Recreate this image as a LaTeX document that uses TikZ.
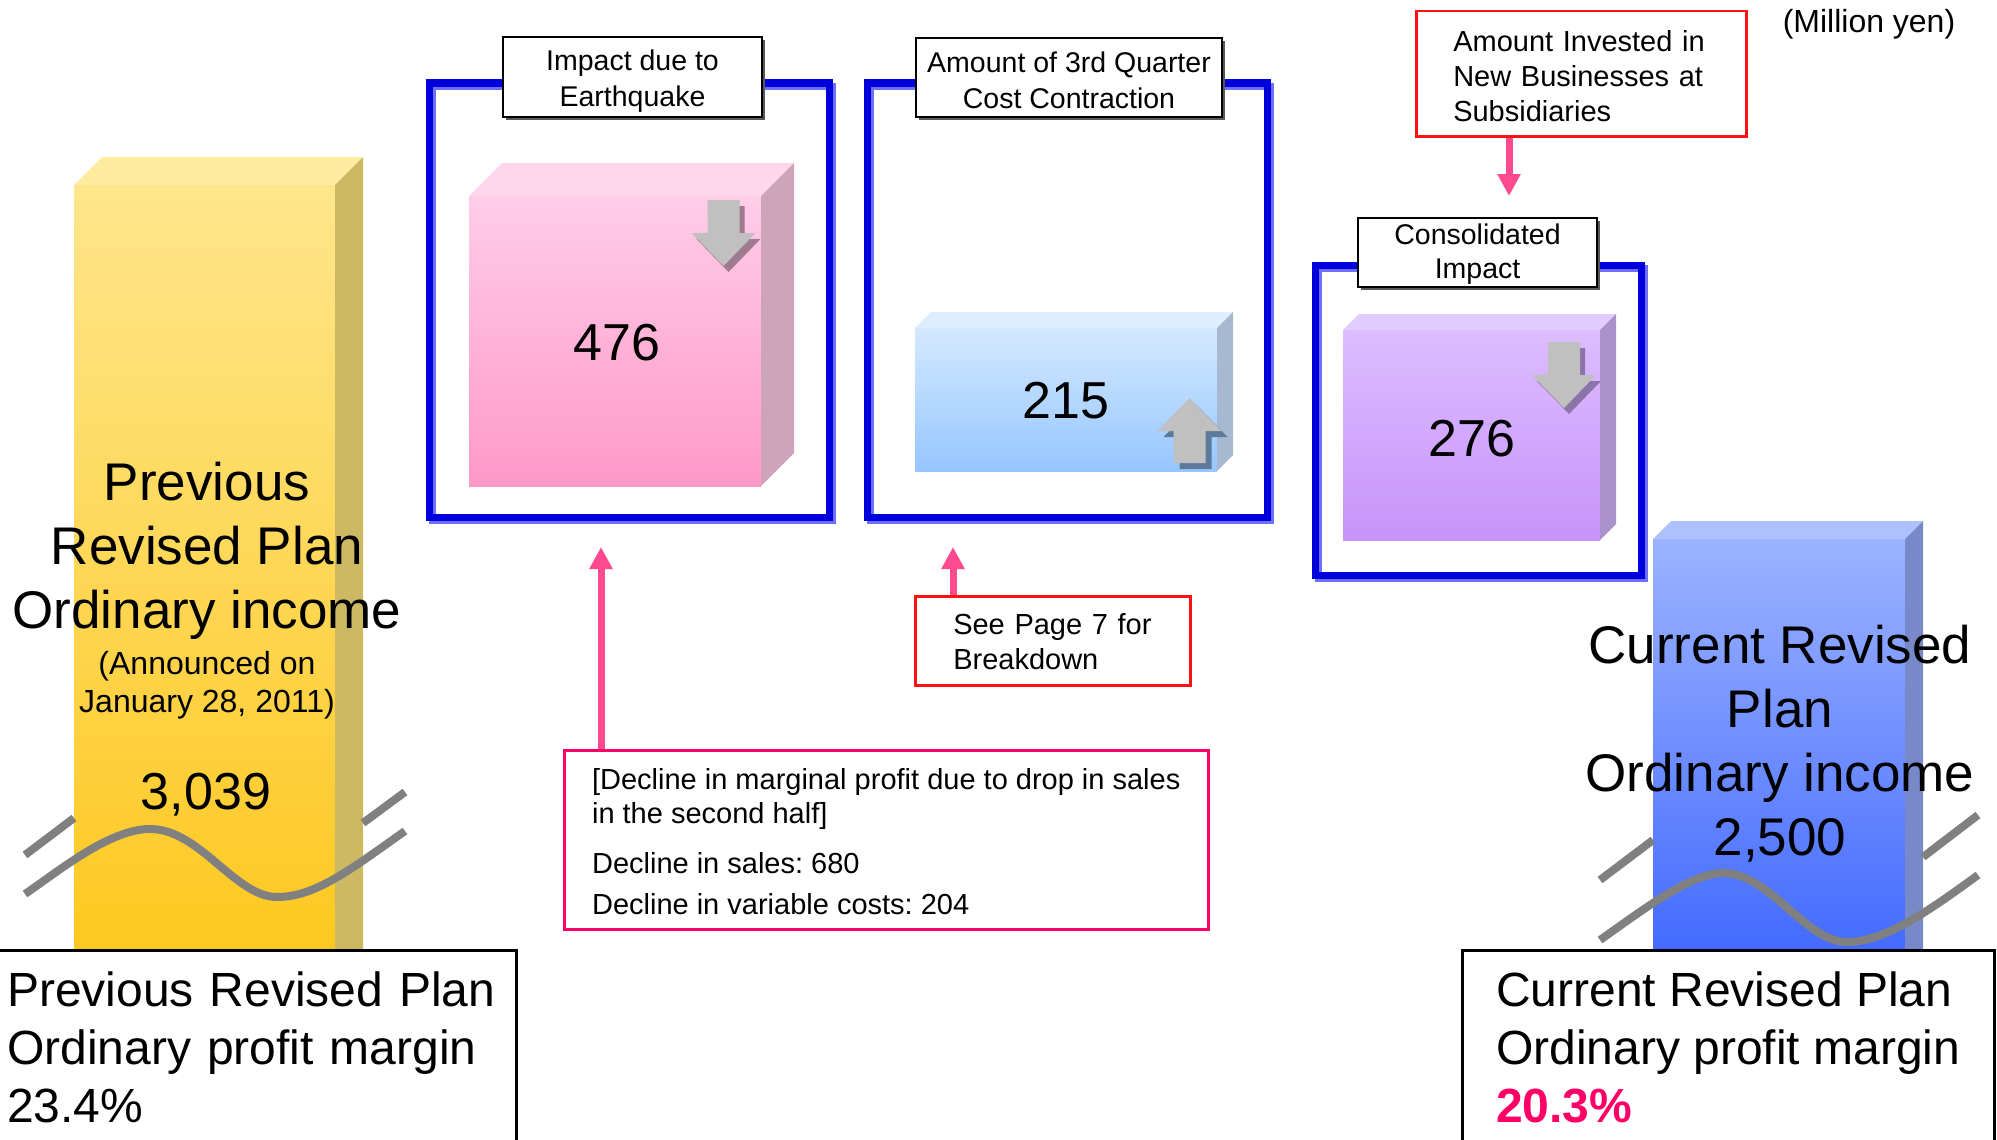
\documentclass[tikz,border=0pt]{standalone}
\usepackage{fontspec}
\setmainfont{Liberation Sans}
\usetikzlibrary{arrows.meta,shadows}
\frenchspacing

% frame, line and callout colours
\definecolor{framedark}{HTML}{0000DC}
\definecolor{framelight}{HTML}{6E6EFF}
\definecolor{breakgray}{HTML}{808080}
\definecolor{calloutred}{HTML}{FF1010}
\definecolor{calloutpink}{HTML}{FF0066}
\definecolor{arrowpink}{HTML}{FF4A90}
\definecolor{arrowgray}{HTML}{C0C0C0}
% block colours: front top, front bottom, lid, side
\definecolor{pinktop}{HTML}{FFCDE8}\definecolor{pinkbot}{HTML}{FF98C8}
\definecolor{pinklid}{HTML}{FFD7EC}\definecolor{pinkside}{HTML}{CDA4BA}
\definecolor{pinkshade}{HTML}{A07A8E}
\definecolor{skytop}{HTML}{D4E9FF}\definecolor{skybot}{HTML}{96C6FF}
\definecolor{skylid}{HTML}{DCEEFF}\definecolor{skyside}{HTML}{A6B9D1}
\definecolor{skyshade}{HTML}{5E7A99}
\definecolor{violettop}{HTML}{DDBCFF}\definecolor{violetbot}{HTML}{C794FA}
\definecolor{violetlid}{HTML}{E1CCFF}\definecolor{violetside}{HTML}{AA92CC}
\definecolor{violetshade}{HTML}{8A74A8}
\definecolor{goldtop}{HTML}{FFE68C}\definecolor{goldbot}{HTML}{FDC71C}
\definecolor{goldlid}{HTML}{FFEC9E}\definecolor{goldside}{HTML}{CDB964}
\definecolor{royaltop}{HTML}{9CB3FF}\definecolor{royalbot}{HTML}{3E66FF}
\definecolor{royallid}{HTML}{ADC1FF}\definecolor{royalside}{HTML}{7889CA}

% a solid block: x1 y1 x2 y2 (front face), depth, front top, front bottom, lid, side
\newcommand{\solidcube}[9]{%
  \shade[top color=#6,bottom color=#7] (#1,#2) rectangle (#3,#4);
  \fill[#8] (#1,#2) -- (#1+#5,#2-#5) -- (#3+#5,#2-#5) -- (#3,#2) -- cycle;
  \fill[#9] (#3,#2) -- (#3+#5,#2-#5) -- (#3+#5,#4-#5) -- (#3,#4) -- cycle;
}
% blue double frame around a block
\newcommand{\blueframe}[4]{%
  \draw[frameshade, shift={(3.5,3.5)}] (#1,#2) rectangle (#3,#4);
  \draw[frameline] (#1,#2) rectangle (#3,#4);
}

\begin{document}
\begin{tikzpicture}[x=1pt,y=-1pt,
  frameline/.style={draw=framedark, line width=7pt},
  frameshade/.style={draw=framelight, line width=7pt},
  breakline/.style={draw=breakgray, line width=8pt},
  labelbox/.style={draw=black, line width=2.5pt, fill=white, align=center,
    inner sep=0pt, font=\fontsize{28.5}{36}\selectfont,
    drop shadow={shadow xshift=3pt, shadow yshift=-3pt, fill=black!65, opacity=1}},
  callout/.style={draw=#1, line width=2.5pt, fill=white, align=left,
    inner ysep=0pt, font=\fontsize{29}{35}\selectfont},
  pinkarrow/.style={draw=arrowpink, line width=7pt,
    -{Triangle[width=22pt,length=22pt]}},
  numtext/.style={inner sep=0pt, font=\fontsize{52}{62}\selectfont},
  bartext/.style={inner sep=0pt, font=\fontsize{53}{64}\selectfont},
  bottombox/.style={draw=black, line width=2.5pt, fill=white, align=left,
    font=\fontsize{48}{58}\selectfont},
  pics/downarr/.style={code={
    \fill[#1, shift={(5,6)}] (-16,0) -- (16,0) -- (16,33) -- (32,33) -- (0,66) -- (-32,33) -- (-16,33) -- cycle;
    \fill[arrowgray] (-16,0) -- (16,0) -- (16,33) -- (32,33) -- (0,66) -- (-32,33) -- (-16,33) -- cycle;
  }},
  pics/uparr/.style={code={
    \fill[#1, shift={(6,6)}] (-16,0) -- (16,0) -- (16,-32) -- (32,-32) -- (0,-65) -- (-32,-32) -- (-16,-32) -- cycle;
    \fill[arrowgray] (-16,0) -- (16,0) -- (16,-32) -- (32,-32) -- (0,-65) -- (-32,-32) -- (-16,-32) -- cycle;
  }}
]
\useasboundingbox (0,0) rectangle (1997,1140);

% ---------- previous plan bar ----------
\solidcube{74}{185}{335}{977}{28}{goldtop}{goldbot}{goldlid}{goldside}
\draw[breakline] (25,855) -- (74,818);
\draw[breakline] (363,823) -- (405,792);
\draw[breakline] (25,894) .. controls (60,870) and (110,829) .. (150,829)
  .. controls (200,829) and (235,897) .. (277,897)
  .. controls (315,897) and (350,870) .. (405,831);
\node[bartext, anchor=base] (prevtitle) at (207,500)
  {\begin{tabular}[t]{@{}c@{}}Previous\\Revised Plan\\Ordinary income\end{tabular}};
\node[inner sep=0pt, anchor=base, font=\fontsize{32}{38.5}\selectfont] (announced) at (207,674)
  {\begin{tabular}[t]{@{}c@{}}(Announced on\\January 28, 2011)\end{tabular}};
\node[numtext, anchor=base] (prevvalue) at (206,809) {3,039};

% ---------- current plan bar ----------
\solidcube{1653}{539}{1905}{977}{18}{royaltop}{royalbot}{royallid}{royalside}
\draw[breakline] (1600,880) -- (1653,840);
\draw[breakline] (1923,857) -- (1978,815);
\draw[breakline] (1600,940) .. controls (1640,912) and (1690,873) .. (1723,873)
  .. controls (1770,873) and (1805,942) .. (1847,942)
  .. controls (1885,942) and (1930,910) .. (1978,875);
\node[bartext, anchor=base] (currtitle) at (1780,663)
  {\begin{tabular}[t]{@{}c@{}}Current Revised\\Plan\\Ordinary income\\2,500\end{tabular}};

% ---------- earthquake impact ----------
\blueframe{429}{83}{829}{517}
\solidcube{469}{196}{761}{486}{33}{pinktop}{pinkbot}{pinklid}{pinkside}
\pic at (723.5,200) {downarr=pinkshade};
\node[numtext, anchor=base] (quakevalue) at (617,360) {476};
\node[labelbox, minimum width=259pt, minimum height=80pt] (quakelabel) at (632.5,77)
  {\rule{0pt}{28pt}Impact due to\\Earthquake};

% ---------- cost contraction ----------
\blueframe{867}{83}{1267}{517}
\solidcube{915}{328}{1217}{471}{16}{skytop}{skybot}{skylid}{skyside}
\pic at (1189.5,463) {uparr=skyshade};
\node[numtext, anchor=base] (costvalue) at (1066,418) {215};
\node[labelbox, minimum width=306pt, minimum height=79pt] (costlabel) at (1069,77.5)
  {\rule{0pt}{27pt}Amount of 3rd Quarter\\Cost Contraction};

% ---------- consolidated impact ----------
\blueframe{1315}{265}{1641}{575}
\solidcube{1343}{330}{1600}{540}{16}{violettop}{violetbot}{violetlid}{violetside}
\pic at (1564,342) {downarr=violetshade};
\node[numtext, anchor=base] (consvalue) at (1472,456) {276};
\node[labelbox, minimum width=239pt, minimum height=69pt, font=\fontsize{28.5}{34}\selectfont]
  (conslabel) at (1477.5,252.5) {\rule{0pt}{23pt}Consolidated\\Impact};

% ---------- unit ----------
\node[inner sep=0pt, anchor=base, font=\fontsize{32}{38}\selectfont] (unit) at (1869,33) {(Million yen)};

% ---------- callouts ----------
\node[callout=calloutred, anchor=north west, minimum height=125pt, text width=256pt,
  inner xsep=37pt] (invest) at (1415,10)
  {\rule{0pt}{25pt}Amount Invested in\\New Businesses at\\Subsidiaries};
\node[callout=calloutred, anchor=north west, minimum height=89pt, text width=199pt,
  inner xsep=38pt] (seepage) at (914,595)
  {\rule{0pt}{22pt}See Page 7 for\\Breakdown};
\node[callout=calloutpink, anchor=north west, minimum height=179pt, minimum width=644pt,
  inner xsep=0pt, font=\fontsize{29}{34}\selectfont] (margin) at (563,749)
  {\rule{0pt}{24pt}[Decline in marginal profit due to drop in sales\\in the second half]\\[16pt]Decline in sales: 680\\[7pt]Decline in variable costs: 204};

\coordinate (quaketip) at (601,547);
\coordinate (costtip) at (953,547);
\coordinate (constip) at (1509,196);
\draw[pinkarrow] (margin.north -| quaketip) -- (quaketip);
\draw[pinkarrow] (seepage.north -| costtip) -- (costtip);
\draw[pinkarrow] (invest.south -| constip) -- (constip);

% ---------- profit margin boxes ----------
\node[bottombox, anchor=north west, text width=499pt, inner xsep=10pt, inner ysep=20pt]
  (prevmargin) at (-4,949)
  {\rule{0pt}{36pt}Previous Revised Plan\\Ordinary profit margin\\23.4\%\rule[-30pt]{0pt}{0pt}};
\node[bottombox, anchor=north west, inner xsep=34pt, inner ysep=20pt]
  (currmargin) at (1461,949)
  {\rule{0pt}{36pt}Current Revised Plan\\Ordinary profit margin\\\textbf{\color{calloutpink}20.3\%}\rule[-30pt]{0pt}{0pt}};
\end{tikzpicture}
\end{document}
